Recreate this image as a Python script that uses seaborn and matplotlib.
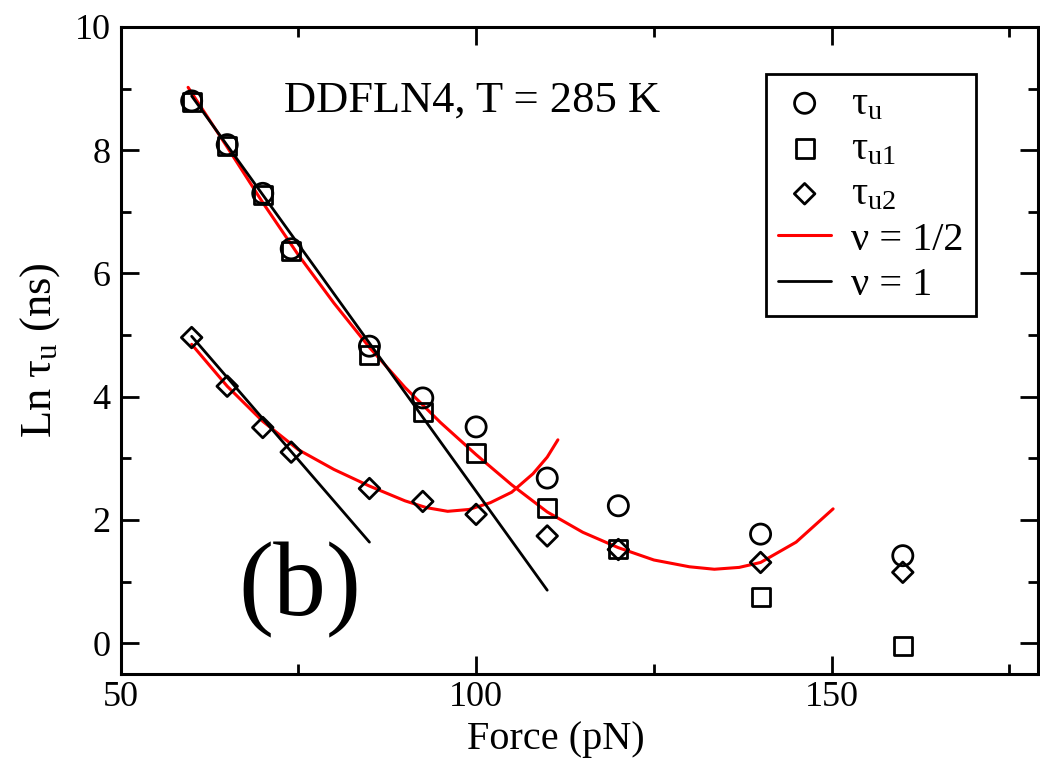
import numpy as np
import pandas as pd
import seaborn as sns
import matplotlib.pyplot as plt
from matplotlib.ticker import MultipleLocator

# forces (pN) of the simulation points
force = [60, 65, 70, 74, 85, 92.5, 100, 110, 120, 140, 160]
ln_tau_u = [8.80, 8.09, 7.30, 6.40, 4.82, 3.98, 3.51, 2.68, 2.23, 1.77, 1.42]
ln_tau_u1 = [8.78, 8.07, 7.27, 6.37, 4.68, 3.75, 3.08, 2.19, 1.53, 0.75, -0.04]
ln_tau_u2 = [4.96, 4.17, 3.50, 3.10, 2.51, 2.30, 2.09, 1.74, 1.52, 1.31, 1.15]

# nu = 1/2 fits
fit_half_u_x = [59.5, 65, 70, 75, 80, 85, 90, 95, 100, 105, 110, 115, 120, 125, 130, 133.5, 137, 140, 145, 150.2]
fit_half_u_y = [9.02, 8.05, 7.15, 6.30, 5.52, 4.80, 4.15, 3.58, 3.06, 2.57, 2.13, 1.80, 1.55, 1.35, 1.24, 1.20, 1.23, 1.31, 1.64, 2.18]
fit_half_u2_x = [60, 65, 70, 75, 80, 85, 90, 93, 96, 99, 102, 105, 108, 110, 111.5]
fit_half_u2_y = [4.85, 4.17, 3.60, 3.14, 2.82, 2.55, 2.31, 2.20, 2.14, 2.17, 2.28, 2.45, 2.75, 3.02, 3.30]

# nu = 1 fits (straight lines)
fit_one_u_x = [60, 110]
fit_one_u_y = [8.88, 0.86]
fit_one_u2_x = [60, 85]
fit_one_u2_y = [4.98, 1.64]

sns.set_theme(style="ticks")
plt.rcParams['font.family'] = ['Liberation Serif', 'DejaVu Serif']
plt.rcParams['mathtext.fontset'] = 'custom'
plt.rcParams['mathtext.rm'] = 'Liberation Serif'
plt.rcParams['mathtext.it'] = 'Liberation Serif:italic'
plt.rcParams['text.color'] = 'black'
plt.rcParams['axes.labelcolor'] = 'black'
plt.rcParams['xtick.color'] = 'black'
plt.rcParams['ytick.color'] = 'black'

fig = plt.figure(figsize=(10.4, 7.66), dpi=100)
ax = fig.add_axes([0.1159, 0.1201, 0.8821, 0.8447])

pts = pd.DataFrame({"force": force, "u": ln_tau_u, "u1": ln_tau_u1, "u2": ln_tau_u2})
mk = dict(facecolor="none", edgecolor="black", linewidth=2.0, zorder=3)
sns.scatterplot(data=pts, x="force", y="u", marker="o", s=210, ax=ax, label=r"τ$_{\mathrm{u}}$", **mk)
sns.scatterplot(data=pts, x="force", y="u1", marker="s", s=170, ax=ax, label=r"τ$_{\mathrm{u1}}$", **mk)
sns.scatterplot(data=pts, x="force", y="u2", marker="D", s=110, ax=ax, label=r"τ$_{\mathrm{u2}}$", **mk)

sns.lineplot(x=fit_half_u_x, y=fit_half_u_y, sort=False, color="red", lw=2.2, ax=ax, label="ν = 1/2")
sns.lineplot(x=fit_half_u2_x, y=fit_half_u2_y, sort=False, color="red", lw=2.2, ax=ax)
sns.lineplot(x=fit_one_u_x, y=fit_one_u_y, sort=False, color="black", lw=2.0, ax=ax, label="ν = 1")
sns.lineplot(x=fit_one_u2_x, y=fit_one_u2_y, sort=False, color="black", lw=2.0, ax=ax)

ax.set_xlim(50, 179)
ax.set_ylim(-0.5, 10)
ax.xaxis.set_major_locator(MultipleLocator(50))
ax.xaxis.set_minor_locator(MultipleLocator(25))
ax.yaxis.set_major_locator(MultipleLocator(2))
ax.yaxis.set_minor_locator(MultipleLocator(1))
ax.tick_params(which="both", direction="in", top=True, right=True, width=2, colors="black")
ax.tick_params(which="major", length=13, labelsize=26, pad=7)
ax.tick_params(axis="x", which="major", pad=5)
ax.tick_params(which="minor", length=7)
for sp in ax.spines.values():
    sp.set_linewidth(2.2)
    sp.set_color("black")

ax.set_xlabel("Force (pN)", fontsize=29)
ax.xaxis.set_label_coords(0.474, -0.072)
ax.set_ylabel(r"Ln τ$_{\mathrm{u}}$ (ns)", fontsize=32)
ax.yaxis.set_label_coords(-0.064, 0.5)

ax.text(0.383, 0.887, "DDFLN4, T = 285 K", transform=ax.transAxes, fontsize=32, ha="center", va="center")
ax.text(0.196, 0.13, "(b)", transform=ax.transAxes, fontsize=76, ha="center", va="center")

leg = ax.legend(loc="upper right", bbox_to_anchor=(0.932, 0.928), borderaxespad=0,
                fontsize=29, frameon=True, fancybox=False, edgecolor="black",
                handlelength=1.3, handletextpad=0.5, labelspacing=0.2, borderpad=0.3)
leg.get_frame().set_linewidth(2.0)
leg.get_frame().set_alpha(1)

fig.savefig("out.png", dpi=100)
